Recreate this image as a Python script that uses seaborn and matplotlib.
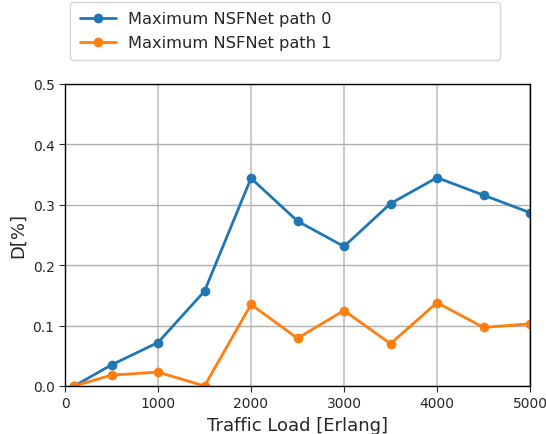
import matplotlib
matplotlib.use("Agg")
import matplotlib.pyplot as plt
import seaborn as sns
import pandas as pd

traffic = [100, 500, 1000, 1500, 2000, 2500, 3000, 3500, 4000, 4500, 5000]
path0 = [0.0, 0.035, 0.072, 0.157, 0.344, 0.273, 0.231, 0.302, 0.345, 0.316, 0.287]
path1 = [0.0, 0.018, 0.023, 0.0, 0.135, 0.079, 0.125, 0.070, 0.138, 0.097, 0.103]
labels = ["Maximum NSFNet path 0", "Maximum NSFNet path 1"]

df = pd.DataFrame({
    "x": traffic * 2,
    "y": path0 + path1,
    "series": [labels[0]] * len(traffic) + [labels[1]] * len(traffic),
})

sns.set_style("white")
plt.rcParams['font.family'] = ['DejaVu Sans']

fig = plt.figure(figsize=(5.46, 4.35), dpi=100)
ax = fig.add_axes([65/546, 1-387/435, (530-65)/546, (387-85)/435])

sns.lineplot(data=df, x="x", y="y", hue="series", palette=["#1f77b4", "#ff7f0e"],
             marker="o", markersize=7, markeredgewidth=0, linewidth=2, ax=ax)

ax.set_xlim(0, 5000)
ax.set_ylim(0, 0.5)
ax.set_xticks([0, 1000, 2000, 3000, 4000, 5000])
ax.set_yticks([0, 0.1, 0.2, 0.3, 0.4, 0.5])
ax.set_yticklabels(["0.0", "0.1", "0.2", "0.3", "0.4", "0.5"])
ax.tick_params(labelsize=10, direction="out", length=4, left=True, bottom=True)
ax.xaxis.grid(True, color="#cccccc", linewidth=1.5)
ax.yaxis.grid(True, color="#b0b0b0", linewidth=1.0)
ax.set_axisbelow(True)
for s in ax.spines.values():
    s.set_color("black")
    s.set_linewidth(1.0)
ax.set_xlabel("Traffic Load [Erlang]", fontsize=13)
ax.set_ylabel("D[%]", fontsize=13)

ax.legend_.remove()
h, l = ax.get_legend_handles_labels()
fig.legend(h, l, loc="lower left", mode="expand",
           bbox_to_anchor=(70/546, 1-61/435, 430/546, 55/435), fontsize=11.7,
           frameon=True, borderaxespad=0, handlelength=2.2, borderpad=0.6,
           labelspacing=0.55)

fig.savefig("out.png", dpi=100)
